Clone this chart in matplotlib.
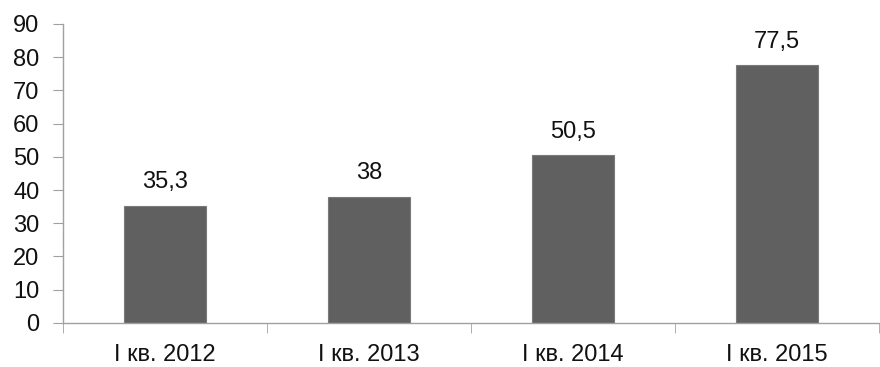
import matplotlib.pyplot as plt

plt.rcParams['font.family'] = ['Liberation Sans', 'DejaVu Sans']

categories = ['I кв. 2012', 'I кв. 2013', 'I кв. 2014', 'I кв. 2015']
values = [35.3, 38, 50.5, 77.5]
value_labels = ['35,3', '38', '50,5', '77,5']

fig = plt.figure(figsize=(8.8, 3.67), dpi=100)
ax = fig.add_axes([0.0716, 0.12, 0.927, 0.815])

x = range(len(categories))
bars = ax.bar(x, values, width=0.4, color='#606060', edgecolor='#7a7a7a', linewidth=0.8)

for b, lab in zip(bars, value_labels):
    ax.annotate(lab, (b.get_x() + b.get_width() / 2, b.get_height()),
                xytext=(0, 9), textcoords='offset points',
                ha='center', va='bottom', fontsize=17, color='#111111')

ax.set_xlim(-0.5, 3.5)
ax.set_ylim(0, 90)
ax.set_yticks(range(0, 91, 10))
ax.set_xticks(list(x))
ax.set_xticklabels(categories)
ax.set_xticks([-0.5, 0.5, 1.5, 2.5, 3.5], minor=True)

for s in ['top', 'right']:
    ax.spines[s].set_visible(False)
for s in ['left', 'bottom']:
    ax.spines[s].set_color('#a0a0a0')
    ax.spines[s].set_linewidth(1)

ax.tick_params(axis='y', length=7, color='#a0a0a0', labelsize=17, pad=10, labelcolor='#111111')
ax.tick_params(axis='x', which='major', length=0, labelsize=17, pad=15, labelcolor='#111111')
ax.tick_params(axis='x', which='minor', length=7, color='#a0a0a0')

fig.savefig('out.png', dpi=100)
